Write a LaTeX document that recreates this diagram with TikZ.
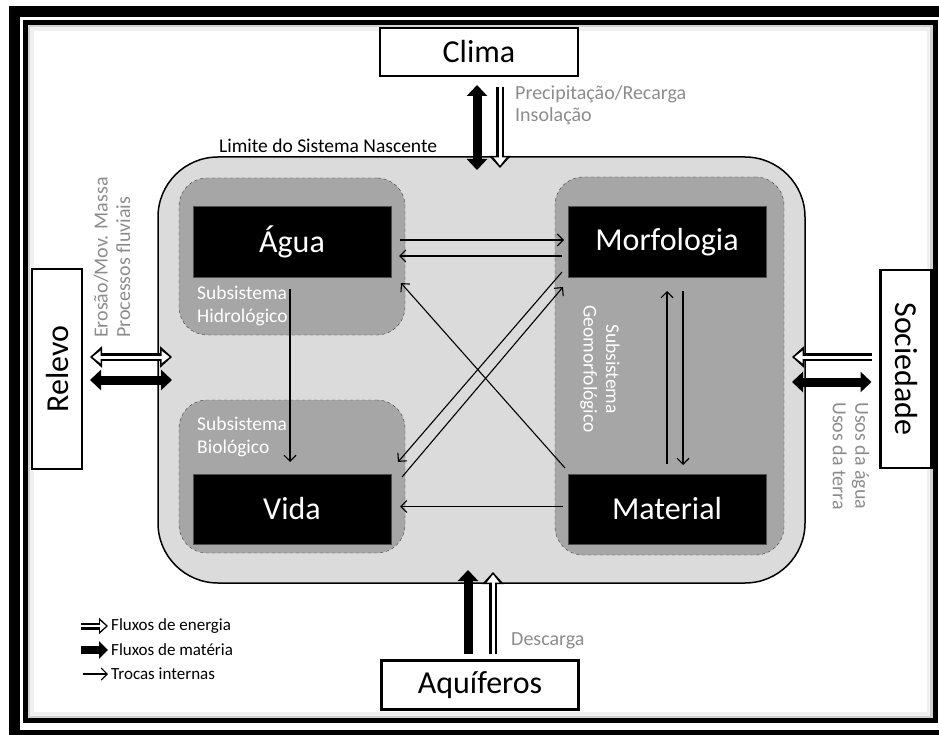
\documentclass[tikz,border=0pt]{standalone}
\usepackage{fontspec}
\setmainfont{Carlito}
\usetikzlibrary{arrows.meta,calc,positioning}

\tikzset{
  box/.style={draw,line width=2.5pt,fill=white,inner sep=0pt,outer sep=0pt,
    font=\fontsize{32}{38}\selectfont},
  comp/.style={fill=black,draw=black!70,line width=1pt,text=white,inner sep=0pt,
    outer sep=0pt,minimum width=198pt,minimum height=70pt,
    font=\fontsize{32}{38}\selectfont},
  subsys/.style={draw=black!75,dashed,fill=black!35,rounded corners=28pt,
    inner sep=0pt,outer sep=0pt},
  note/.style={text=black!45,font=\fontsize{20}{22.5}\selectfont,align=left,inner sep=0pt},
  sublabel/.style={text=white,font=\fontsize{19.5}{22.5}\selectfont,align=left,inner sep=0pt},
  legtext/.style={anchor=west,font=\fontsize{17}{20}\selectfont,inner sep=0pt},
  troca/.style={line width=1.1pt,-{Straight Barb[length=6pt,width=12pt]}},
  matter/.style={draw=black,line width=9pt,arrows={-Triangle[length=11pt,width=20pt]}},
  matterboth/.style={draw=black,line width=9pt,
    arrows={Triangle[length=11pt,width=20pt]-Triangle[length=11pt,width=20pt]}},
  energy/.style={draw=black,line width=8pt,arrows={-Triangle[length=12pt,width=21pt]},
    postaction={draw=white,line width=3pt,shorten >=2.5pt,
      arrows={-Triangle[length=8pt,width=12pt]}}},
  energyboth/.style={draw=black,line width=8pt,
    arrows={Triangle[length=12pt,width=21pt]-Triangle[length=12pt,width=21pt]},
    postaction={draw=white,line width=3pt,shorten >=2.5pt,shorten <=2.5pt,
      arrows={Triangle[length=8pt,width=12pt]-Triangle[length=8pt,width=12pt]}}},
  legenergy/.style={draw=black,line width=7pt,arrows={-Triangle[length=9pt,width=16pt]},
    postaction={draw=white,line width=2.5pt,shorten >=2pt,
      arrows={-Triangle[length=6pt,width=10pt]}}},
  legmatter/.style={draw=black,line width=8pt,arrows={-Triangle[length=9pt,width=17pt]}},
}

\begin{document}
\begin{tikzpicture}[x=1pt,y=-1pt]
\useasboundingbox (0,0) rectangle (939,735);

% frame
\draw[line width=11pt] (14.5,11.5) rectangle (950,735.5);
\draw[black!6,line width=6pt] (31,28) rectangle (929.5,715);
\draw[black!18,line width=2.5pt] (29,26) rectangle (931.5,717);
\draw[line width=5pt] (25.5,22.5) rectangle (935,720.5);

% system boundary and subsystems
\node[draw,line width=1.5pt,fill=black!14,rounded corners=60pt,inner sep=0pt,outer sep=0pt,
  minimum width=647pt,minimum height=426pt] (sys) at (481.5,370) {};
\node[subsys,minimum width=226pt,minimum height=157pt] (hidro) at (292,256.5) {};
\node[subsys,minimum width=226pt,minimum height=153pt] (bio) at (292,476.5) {};
\node[subsys,minimum width=229pt,minimum height=378pt] (geo) at (669.5,366) {};

% components
\node[comp] (agua) at (292,242) {Água};
\node[comp,right=177pt of agua] (morf) {Morfologia};
\node[comp,below=197pt of morf] (material) {Material};
\node[comp,left=177pt of material] (vida) {Vida};

\node[sublabel,anchor=north west] (hidrolab) at (197,286) {Subsistema\\Hidrológico};
\node[sublabel,anchor=north west] (biolab) at (197,417) {Subsistema\\Biológico};
\node[sublabel,align=center,rotate=-90] (geolab) at (600,369) {Subsistema\\Geomorfológico};

% outside
\node[box,minimum width=198pt,minimum height=48pt] (clima) at (479,52) {Clima};
\node[box,minimum width=197pt,minimum height=49pt] (aquif) at (480,685) {Aquíferos};
\node[box,minimum width=50pt,minimum height=200pt] (relevo) at (57,369) {\rotatebox{90}{Relevo}};
\node[box,minimum width=51pt,minimum height=198pt] (soc) at (906,369) {\rotatebox{-90}{Sociedade}};

\node[anchor=west,inner sep=0pt,font=\fontsize{19.5}{22}\selectfont] (limite) at (219,146)
  {Limite do Sistema Nascente};
\node[note,anchor=north west] (climalab) at (515,85) {Precipitação/Recarga\\Insolação};
\node[note,anchor=west] (aquiflab) at (511,641) {Descarga};
\node[note,rotate=90,anchor=west] (relevolab) at (112,338) {Erosão/Mov. Massa\\Processos fluviais};
\node[note,rotate=-90,anchor=west] (soclab) at (851,402) {Usos da água\\Usos da terra};

% external flows
\draw[matterboth] ($(clima.south)+(-2,9)$) -- ($(clima.south |- sys.north)+(-2,13)$);
\draw[energy] ($(clima.south)+(21,11)$) -- ($(clima.south |- sys.north)+(21,11)$);
\draw[matter] ($(aquif.north)+(-12,-7)$) -- ($(aquif.north |- sys.south)+(-12,-13)$);
\draw[energy] ($(aquif.north)+(13,-7)$) -- ($(aquif.north |- sys.south)+(13,-11)$);
\draw[energyboth] ($(relevo.east)+(8,-12)$) -- ($(sys.west |- relevo.east)+(14,-12)$);
\draw[matterboth] ($(relevo.east)+(8,11)$) -- ($(sys.west |- relevo.east)+(14,11)$);
\draw[energy] ($(soc.west)+(-9,-12)$) -- ($(sys.east |- soc.west)+(-13,-12)$);
\draw[matterboth] ($(soc.west)+(-9,13)$) -- ($(sys.east |- soc.west)+(-13,13)$);

% internal exchanges
\draw[troca] ($(agua.east)+(9,-2)$) -- ($(morf.west)+(-4,-2)$);
\draw[troca] ($(morf.west)+(-6,14)$) -- ($(agua.east)+(8,14)$);
\draw[troca] ($(agua.south)+(-2,12)$) -- ($(vida.north)+(-2,-12)$);
\draw[troca] ($(material.north)+(0,-10)$) -- ($(morf.south)+(0,14)$);
\draw[troca] ($(morf.south)+(16,14)$) -- ($(material.north)+(16,-9)$);
\draw[troca] ($(material.west)+(-5,-2.5)$) -- ($(vida.east)+(9,-2.5)$);
\draw[troca] ($(material.north west)+(-3,-6)$) -- ($(agua.south east)+(10,6)$);
\draw[troca] ($(morf.south west)+(-6,-5)$) -- ($(vida.north east)+(7,-12)$);
\draw[troca] ($(vida.north east)+(11,3)$) -- ($(morf.south west)+(-5,10)$);

% legend
\node[legtext] (legE) at (111,626) {Fluxos de energia};
\node[legtext] (legM) at (111,650) {Fluxos de matéria};
\node[legtext] (legT) at (111,674) {Trocas internas};
\draw[legenergy] ($(legE.west)+(-30,0)$) -- ($(legE.west)+(-3,0)$);
\draw[legmatter] ($(legM.west)+(-30,0)$) -- ($(legM.west)+(-3,0)$);
\draw[troca] ($(legT.west)+(-28,0)$) -- ($(legT.west)+(-3,0)$);
\end{tikzpicture}
\end{document}
